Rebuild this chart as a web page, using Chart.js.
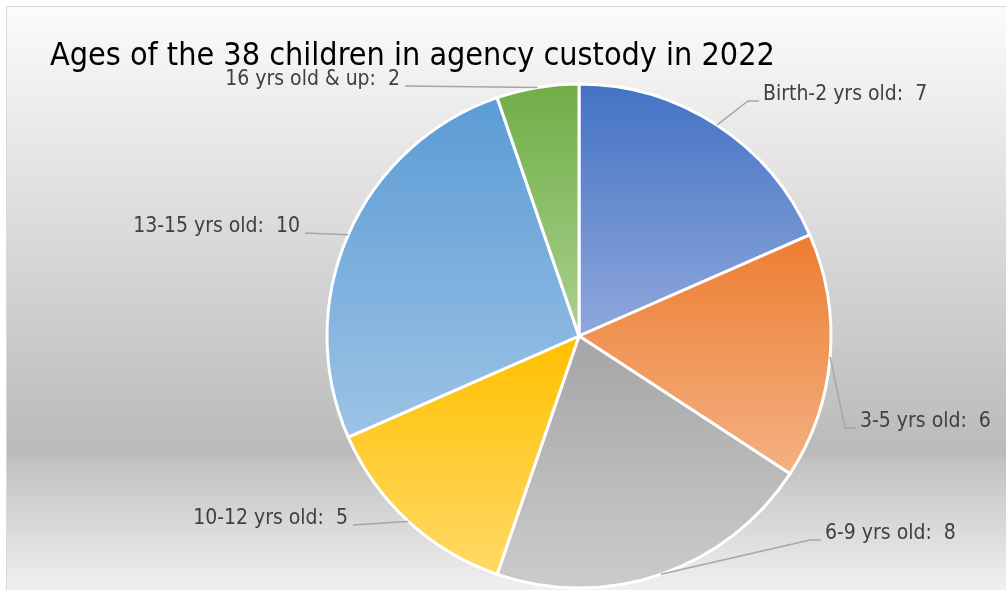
<!DOCTYPE html>
<html>
<head>
<meta charset="utf-8">
<script src="https://cdn.jsdelivr.net/npm/chart.js@4.4.1/dist/chart.umd.min.js"></script>
<style>
  html, body { margin: 0; padding: 0; background: #fff; overflow: hidden; }
  canvas { display: block; }
</style>
</head>
<body>
<canvas id="agesPie" width="1006" height="590"></canvas>
<script>
// chart data
const chartTitle = 'Ages of the 38 children in agency custody in 2022';
const ageGroups = ['Birth-2 yrs old', '3-5 yrs old', '6-9 yrs old', '10-12 yrs old', '13-15 yrs old', '16 yrs old & up'];
const childCounts = [7, 6, 8, 5, 10, 2];

// slice colours: top of gradient -> bottom of gradient
const sliceDark = ['#4472c4', '#ed7d31', '#a5a5a5', '#ffc000', '#5b9bd5', '#70ad47'];
const sliceLight = ['#8fa8dc', '#f4b183', '#cbcbcb', '#ffd966', '#9dc3e6', '#a9d18e'];

// callout layout: elbow of the leader line, side the text goes on
const calloutAt = [
  { x: 748, y: 101, side: 1 },
  { x: 845, y: 428, side: 1 },
  { x: 810, y: 540, side: 1 },
  { x: 353, y: 525, side: -1 },
  { x: 305, y: 233, side: -1 },
  { x: 405, y: 86, side: -1 }
];

const fontFamily = "'Liberation Sans Narrow', 'DejaVu Sans Condensed', Lato, sans-serif";
const pieRadius = 252;

function fitFont(text, target, base){
  const c = document.createElement('canvas').getContext('2d');
  c.font = base + 'px ' + fontFamily;
  return base * target / c.measureText(text).width;
}
const titleSize = Math.min(38, fitFont(chartTitle, 725, 36));
const labelSize = Math.min(21, fitFont('Birth-2 yrs old:  7', 165, 20));

function sliceFill(ctx){
  const i = ctx.dataIndex;
  const area = ctx.chart.chartArea;
  if(!area) return sliceDark[i];
  const cy = (area.top + area.bottom) / 2;
  const total = childCounts.reduce((a,b)=>a+b, 0);
  const before = childCounts.slice(0, i).reduce((a,b)=>a+b, 0);
  const a0 = -Math.PI/2 + before/total*2*Math.PI;
  const a1 = a0 + childCounts[i]/total*2*Math.PI;
  let top = cy, bot = cy;
  const angles = [a0, a1];
  for(let k=-1;k<=3;k++){ const a = k*Math.PI/2; if(a>a0 && a<a1) angles.push(a); }
  angles.forEach(a=>{ const yy = cy + Math.sin(a)*pieRadius; top = Math.min(top, yy); bot = Math.max(bot, yy); });
  const g = ctx.chart.ctx.createLinearGradient(0, top, 0, bot);
  g.addColorStop(0, sliceDark[i]);
  g.addColorStop(1, sliceLight[i]);
  return g;
}

// grey gradient panel behind the chart
const panelPlugin = {
  id: 'panel',
  beforeDraw(chart){
    const ctx = chart.ctx;
    ctx.save();
    ctx.fillStyle = '#ffffff';
    ctx.fillRect(0, 0, chart.width, chart.height);
    const g = ctx.createLinearGradient(0, 7, 0, chart.height);
    g.addColorStop(0, '#fbfbfb');
    g.addColorStop(0.765, '#bababa');
    g.addColorStop(0.78, '#c2c2c2');
    g.addColorStop(1, '#f0f0f0');
    ctx.fillStyle = g;
    ctx.fillRect(7, 7, chart.width, chart.height);
    ctx.strokeStyle = '#d9d9d9';
    ctx.lineWidth = 1;
    ctx.strokeRect(6.5, 6.5, chart.width + 10, chart.height + 10);
    ctx.restore();
  }
};

// title top-left, data callouts with leader lines
const calloutPlugin = {
  id: 'callouts',
  afterDatasetsDraw(chart){
    const ctx = chart.ctx;
    const meta = chart.getDatasetMeta(0);
    ctx.save();
    ctx.font = titleSize + 'px ' + fontFamily;
    ctx.fillStyle = '#000000';
    ctx.textAlign = 'left';
    ctx.textBaseline = 'alphabetic';
    ctx.fillText(chartTitle, 50, 65);

    ctx.font = labelSize + 'px ' + fontFamily;
    ctx.textBaseline = 'middle';
    meta.data.forEach((arc, i)=>{
      const p = arc.getProps(['x','y','startAngle','endAngle','outerRadius'], true);
      const mid = (p.startAngle + p.endAngle) / 2;
      const sx = p.x + Math.cos(mid)*p.outerRadius;
      const sy = p.y + Math.sin(mid)*p.outerRadius;
      const c = calloutAt[i];
      ctx.strokeStyle = '#a6a6a6';
      ctx.lineWidth = 1.5;
      ctx.beginPath();
      ctx.moveTo(sx, sy);
      ctx.lineTo(c.x, c.y);
      if(c.side > 0) ctx.lineTo(c.x + 11, c.y);
      ctx.stroke();
      ctx.fillStyle = '#404040';
      const txt = ageGroups[i] + ':  ' + childCounts[i];
      if(c.side > 0){ ctx.textAlign = 'left'; ctx.fillText(txt, c.x + 15, c.y - 6); }
      else { ctx.textAlign = 'right'; ctx.fillText(txt, c.x - 5, c.y - 6); }
    });
    ctx.restore();
  }
};

new Chart(document.getElementById('agesPie'), {
  type: 'pie',
  data: {
    labels: ageGroups,
    datasets: [{
      data: childCounts,
      backgroundColor: sliceFill,
      borderColor: '#ffffff',
      borderWidth: 3,
      radius: pieRadius
    }]
  },
  options: {
    responsive: false,
    animation: false,
    events: [],
    layout: { padding: { left: 152, right: 0, top: 84, bottom: 2 } },
    plugins: {
      legend: { display: false },
      tooltip: { enabled: false },
      title: { display: false }
    }
  },
  plugins: [panelPlugin, calloutPlugin]
});
</script>
</body>
</html>
